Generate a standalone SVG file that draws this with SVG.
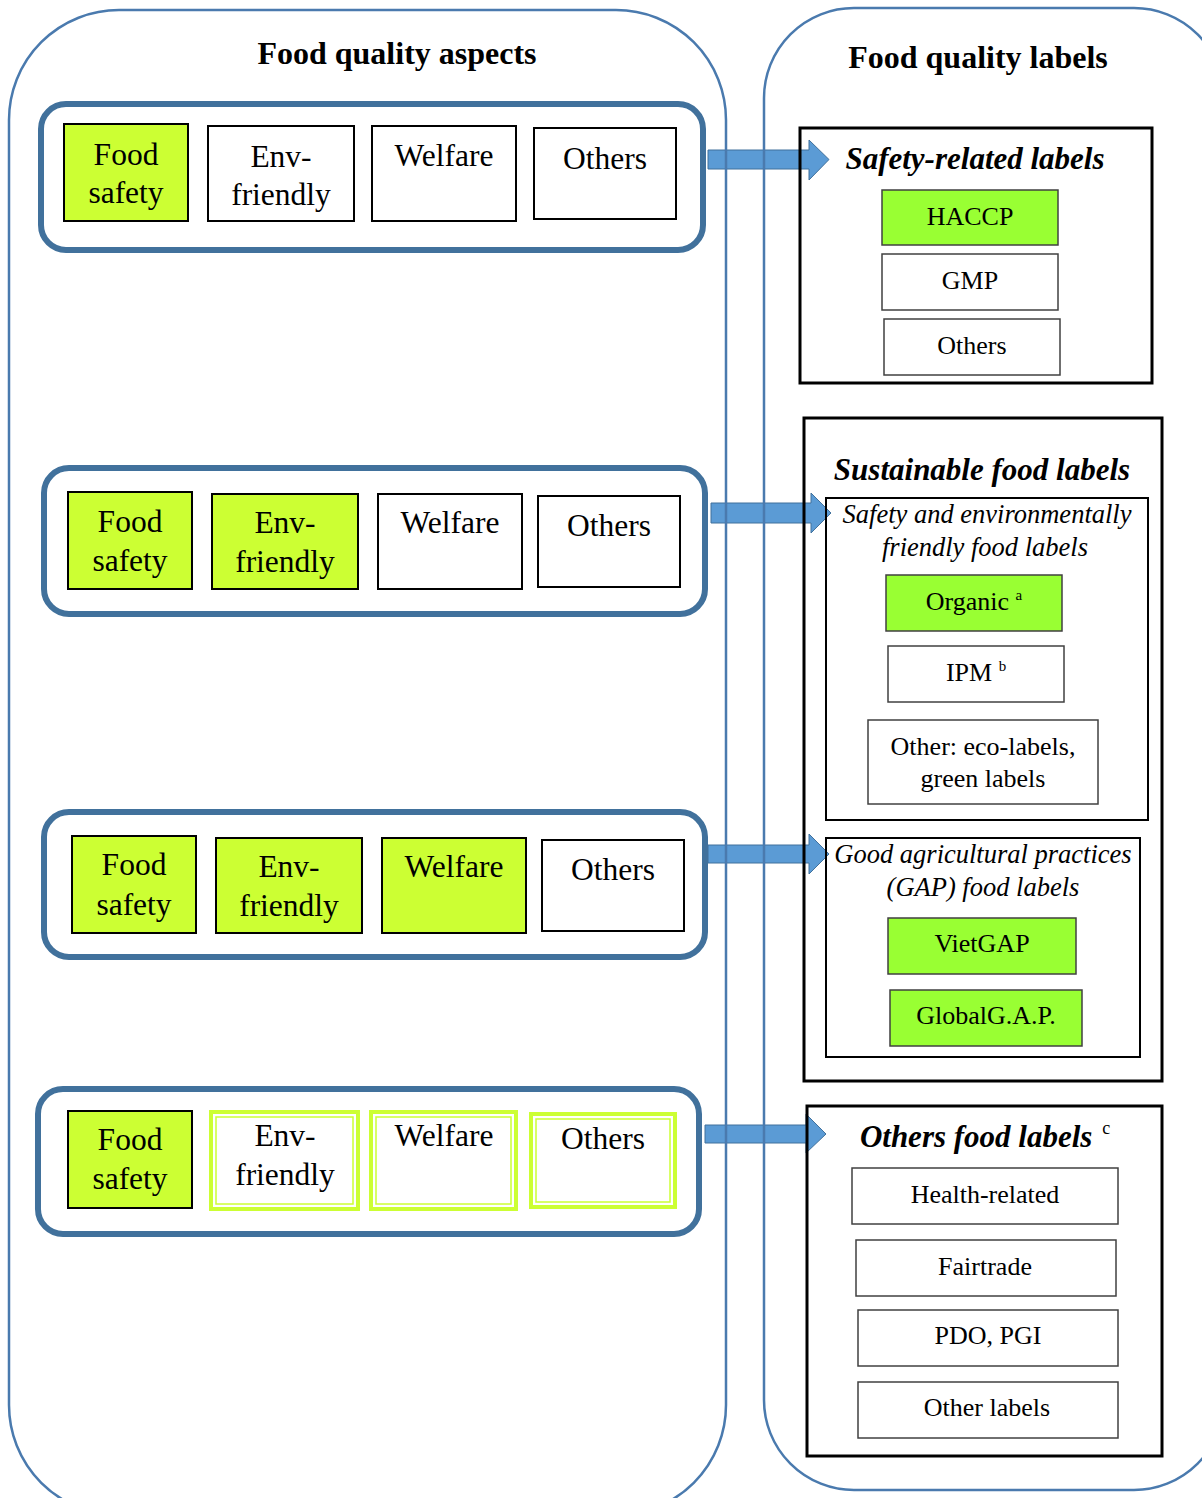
<svg xmlns="http://www.w3.org/2000/svg" width="1202" height="1498" viewBox="0 0 1202 1498">
<style>
.container{fill:none;stroke:#4a7aae;stroke-width:2.5}
.panel{fill:#fff;stroke:#41719c;stroke-width:6}
.asp{stroke:#000;stroke-width:2}
.yg{fill:#ccff33}
.wh{fill:#fff}
.dbl{fill:#fff;stroke:#ccff33;stroke-width:4}
.dbli{fill:none;stroke:#ccff33;stroke-width:1.5}
.grp{fill:none;stroke:#000;stroke-width:3}
.sub{fill:none;stroke:#000;stroke-width:2}
.lab{stroke:#404040;stroke-width:1.5}
.gr{fill:#99ff33}
.arrow{fill:#5b9bd5;stroke:#41719c;stroke-width:1}
text{font-family:"Liberation Serif","Times New Roman",serif;fill:#000;text-anchor:middle}
.t1{font-size:32px;font-weight:bold}
.ta{font-size:31.5px}
.th{font-size:31px;font-weight:bold;font-style:italic}
.ts{font-size:26.5px;font-style:italic}
.tl{font-size:26px}
.sup{font-size:15px}
</style>
<g id="connectors">
<polygon class="arrow" points="708,150 809,150 809,140 829,159.5 809,180 809,169 708,169"/>
<polygon class="arrow" points="711,503 811,503 811,493 831,513 811,533 811,523 711,523"/>
<polygon class="arrow" points="708,845 809,845 809,834 829,854 809,874 809,863 708,863"/>
<polygon class="arrow" points="705,1125 806,1125 806,1114 826,1134 806,1153 806,1143 705,1143"/>
</g>
<g id="aspects-container">
<rect class="container" x="9" y="10" width="717" height="1505" rx="110" ry="110"/>
<text class="t1" x="397" y="64">Food quality aspects</text>
</g>
<g id="labels-container">
<rect class="container" x="764" y="8" width="460" height="1482" rx="90" ry="90"/>
<text class="t1" x="978" y="68">Food quality labels</text>
</g>
<g id="panel1">
<rect class="panel" x="41" y="104" width="662" height="146" rx="25"/>
<rect class="asp yg" x="64" y="124" width="124" height="97"/>
<text class="ta" x="126" y="165">Food</text><text class="ta" x="126" y="203">safety</text>
<rect class="asp wh" x="208" y="126" width="146" height="95"/>
<text class="ta" x="281" y="167">Env-</text><text class="ta" x="281" y="205">friendly</text>
<rect class="asp wh" x="372" y="126" width="144" height="95"/>
<text class="ta" x="444" y="166">Welfare</text>
<rect class="asp wh" x="534" y="128" width="142" height="91"/>
<text class="ta" x="605" y="169">Others</text>
</g>
<g id="panel2">
<rect class="panel" x="44" y="468" width="661" height="146" rx="25"/>
<rect class="asp yg" x="68" y="492" width="124" height="97"/>
<text class="ta" x="130" y="532">Food</text><text class="ta" x="130" y="571">safety</text>
<rect class="asp yg" x="212" y="494" width="146" height="95"/>
<text class="ta" x="285" y="533">Env-</text><text class="ta" x="285" y="572">friendly</text>
<rect class="asp wh" x="378" y="494" width="144" height="95"/>
<text class="ta" x="450" y="533">Welfare</text>
<rect class="asp wh" x="538" y="496" width="142" height="91"/>
<text class="ta" x="609" y="536">Others</text>
</g>
<g id="panel3">
<rect class="panel" x="44" y="812" width="661" height="145" rx="25"/>
<rect class="asp yg" x="72" y="836" width="124" height="97"/>
<text class="ta" x="134" y="875">Food</text><text class="ta" x="134" y="915">safety</text>
<rect class="asp yg" x="216" y="838" width="146" height="95"/>
<text class="ta" x="289" y="877">Env-</text><text class="ta" x="289" y="916">friendly</text>
<rect class="asp yg" x="382" y="838" width="144" height="95"/>
<text class="ta" x="454" y="877">Welfare</text>
<rect class="asp wh" x="542" y="840" width="142" height="91"/>
<text class="ta" x="613" y="880">Others</text>
</g>
<g id="panel4">
<rect class="panel" x="38" y="1089" width="661" height="145" rx="25"/>
<rect class="asp yg" x="68" y="1111" width="124" height="97"/>
<text class="ta" x="130" y="1150">Food</text><text class="ta" x="130" y="1189">safety</text>
<rect class="dbl" x="211" y="1112" width="147" height="97"/>
<rect class="dbli" x="216" y="1117" width="137" height="87"/>
<text class="ta" x="285" y="1146">Env-</text><text class="ta" x="285" y="1185">friendly</text>
<rect class="dbl" x="371" y="1112" width="145" height="97"/>
<rect class="dbli" x="376" y="1117" width="135" height="87"/>
<text class="ta" x="444" y="1146">Welfare</text>
<rect class="dbl" x="531" y="1114" width="144" height="93"/>
<rect class="dbli" x="536" y="1119" width="134" height="83"/>
<text class="ta" x="603" y="1149">Others</text>
</g>
<g id="safety-labels">
<rect class="grp" x="800" y="128" width="352" height="255"/>
<text class="th" x="975" y="169">Safety-related labels</text>
<rect class="lab gr" x="882" y="190" width="176" height="55"/>
<text class="tl" x="970" y="225">HACCP</text>
<rect class="lab wh" x="882" y="254" width="176" height="56"/>
<text class="tl" x="970" y="289">GMP</text>
<rect class="lab wh" x="884" y="319" width="176" height="56"/>
<text class="tl" x="972" y="354">Others</text>
</g>
<g id="sustainable-labels">
<rect class="grp" x="804" y="418" width="358" height="663"/>
<text class="th" x="982" y="480">Sustainable food labels</text>
</g>
<g id="safety-env-labels">
<rect class="sub" x="826" y="498" width="322" height="322"/>
<text class="ts" x="987" y="523">Safety and environmentally</text>
<text class="ts" x="985" y="556">friendly food labels</text>
<rect class="lab gr" x="886" y="575" width="176" height="56"/>
<text class="tl" x="974" y="610">Organic <tspan class="sup" dy="-10">a</tspan></text>
<rect class="lab wh" x="888" y="646" width="176" height="56"/>
<text class="tl" x="976" y="681">IPM <tspan class="sup" dy="-10">b</tspan></text>
<rect class="lab wh" x="868" y="720" width="230" height="84"/>
<text class="tl" x="983" y="755">Other: eco-labels,</text>
<text class="tl" x="983" y="787">green labels</text>
</g>
<g id="gap-labels">
<rect class="sub" x="826" y="838" width="314" height="219"/>
<text class="ts" x="983" y="863">Good agricultural practices</text>
<text class="ts" x="983" y="896">(GAP) food labels</text>
<rect class="lab gr" x="888" y="918" width="188" height="56"/>
<text class="tl" x="982" y="952">VietGAP</text>
<rect class="lab gr" x="890" y="990" width="192" height="56"/>
<text class="tl" x="986" y="1024">GlobalG.A.P.</text>
</g>
<g id="other-labels">
<rect class="grp" x="807" y="1106" width="355" height="350"/>
<text class="th" x="985" y="1147">Others food labels <tspan font-size="18px" font-weight="normal" font-style="normal" dx="2" dy="-13">c</tspan></text>
<rect class="lab wh" x="852" y="1168" width="266" height="56"/>
<text class="tl" x="985" y="1203">Health-related</text>
<rect class="lab wh" x="856" y="1240" width="260" height="56"/>
<text class="tl" x="985" y="1275">Fairtrade</text>
<rect class="lab wh" x="858" y="1310" width="260" height="56"/>
<text class="tl" x="988" y="1344">PDO, PGI</text>
<rect class="lab wh" x="858" y="1382" width="260" height="56"/>
<text class="tl" x="987" y="1416">Other labels</text>
</g>
</svg>
